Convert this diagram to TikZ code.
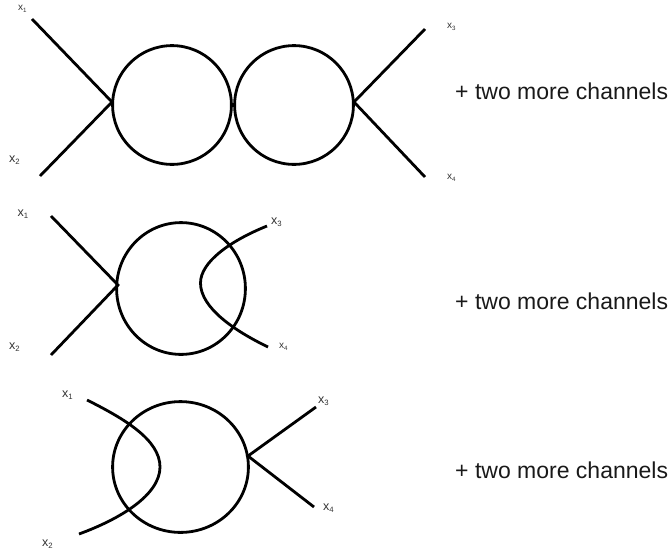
\documentclass[tikz,border=0pt]{standalone}
\usepackage{fontspec}
\usetikzlibrary{shapes.geometric}
\setmainfont{Liberation Sans}
\tikzset{
 line/.style={line width=2.8pt,black},
 ring/.style={ellipse,line,draw,inner sep=0pt},
 lab/.style={inner sep=0pt,anchor=base west,text=black!80},
 big/.style={lab,font=\fontsize{12.5}{14}\selectfont},
 small/.style={lab,font=\fontsize{10}{12}\selectfont},
 chan/.style={inner sep=0pt,anchor=base west,font=\fontsize{23}{26}\selectfont,text=black!90},
}
\newcommand{\xl}[1]{x\raisebox{-0.22em}{\scalebox{0.62}{#1}}}
\begin{document}
\begin{tikzpicture}[x=1pt,y=-1pt]
\useasboundingbox (0,0) rectangle (671,552);
% top
\node[ring,minimum width=118.8pt,minimum height=118.8pt] (c1) at (172,105) {};
\node[ring,minimum width=118.8pt,minimum height=118.8pt] (c2) at (294,105) {};
\coordinate (a1) at (32,19); \coordinate (a2) at (40,176);
\coordinate (a3) at (425,29); \coordinate (a4) at (425,177);
\coordinate (v1) at (112,102); \coordinate (v2) at (354,102);
\draw[line] (a1) -- (v1) -- (a2);
\draw[line] (a3) -- (v2) -- (a4);
\node[small] (t1) at (18,10) {\xl{1}};
\node[big] (t2) at (9,162) {\xl{2}};
\node[small] (t3) at (447,28) {\xl{3}};
\node[small] (t4) at (447,179) {\xl{4}};
\node[chan] (n1) at (455,99) {+ two more channels};
% middle
\node[ring,minimum width=128.8pt,minimum height=131.8pt] (c3) at (181,288.5) {};
\coordinate (b1) at (51,216); \coordinate (b2) at (51,355);
\coordinate (b3) at (267,226); \coordinate (b4) at (268,347);
\coordinate (v3) at (118,285); \coordinate (b5) at (200.5,283);
\draw[line] (b1) -- (v3) -- (b2);
\draw[line] (b3) .. controls (230,241) and (200.5,262) .. (b5) .. controls (200.5,308) and (235,331) .. (b4);
\node[big] (t5) at (17.5,216) {\xl{1}};
\node[big] (t6) at (9,349) {\xl{2}};
\node[big] (t7) at (271,224) {\xl{3}};
\node[small] (t8) at (279,348) {\xl{4}};
\node[chan] (n2) at (455,309) {+ two more channels};
% bottom
\node[ring,minimum width=135.8pt,minimum height=130.8pt] (c4) at (180.5,467) {};
\coordinate (d1) at (87,400); \coordinate (d2) at (79,534);
\coordinate (d3) at (316,407); \coordinate (d4) at (314,507);
\coordinate (v4) at (248,456); \coordinate (d5) at (160,467);
\draw[line] (d3) -- (v4) -- (d4);
\draw[line] (d1) .. controls (125,419) and (160,440) .. (d5) .. controls (160,495) and (120,519) .. (d2);
\node[big] (t9) at (62,397) {\xl{1}};
\node[big] (t10) at (42,546) {\xl{2}};
\node[big] (t11) at (318,403) {\xl{3}};
\node[big] (t12) at (323,510) {\xl{4}};
\node[chan] (n3) at (455,478) {+ two more channels};
\end{tikzpicture}
\end{document}
